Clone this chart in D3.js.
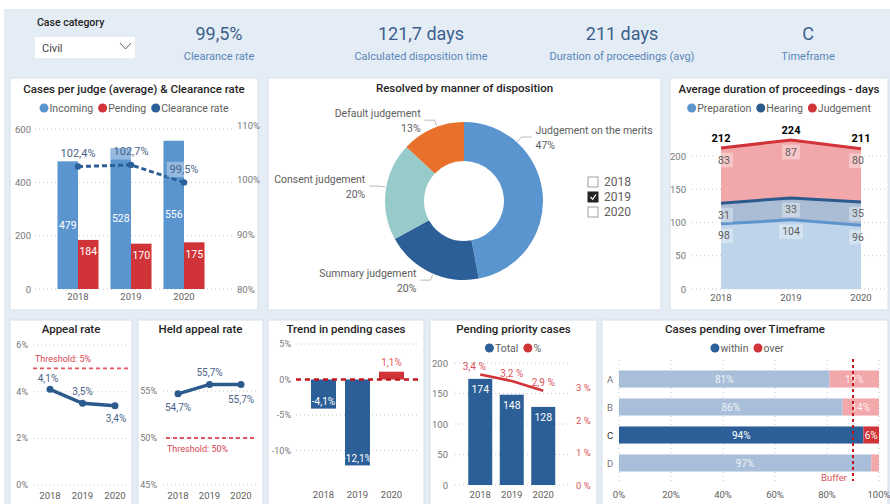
<!DOCTYPE html>
<html><head><meta charset="utf-8">
<script src="https://cdn.jsdelivr.net/npm/d3@7"></script>
<style>
html,body{margin:0;padding:0;background:#fff;}
svg{display:block;font-family:Roboto,'Noto Sans',sans-serif;}
</style></head><body>
<svg id="c" width="890" height="504"></svg>
<script>
// ---------- DATA ----------
const caseCategory = "Civil";
const kpiValues = ["99,5%", "121,7 days", "211 days", "C"];
const kpiLabels = ["Clearance rate", "Calculated disposition time", "Duration of proceedings (avg)", "Timeframe"];
const years = ["2018", "2019", "2020"];
const incoming = [479, 528, 556];
const pending = [184, 170, 175];
const clearanceRate = [102.4, 102.7, 99.5];
const dispositionNames = ["Judgement on the merits", "Summary judgement", "Consent judgement", "Default judgement"];
const dispositionShares = [47, 20, 20, 13];
const slicerYears = ["2018", "2019", "2020"];
const slicerSelected = "2019";
const preparation = [98, 104, 96];
const hearing = [31, 33, 35];
const judgement = [83, 87, 80];
const appealRate = [4.1, 3.5, 3.4];
const appealThreshold = 5;
const heldAppealRate = [54.7, 55.7, 55.7];
const heldThreshold = 50;
const pendingTrend = [-4.1, -12.1, 1.1];
const priorityTotal = [174, 148, 128];
const priorityPct = [3.4, 3.2, 2.9];
const timeframeCats = ["A", "B", "C", "D"];
const withinPct = [81, 86, 94, 97];
const overPct = [19, 14, 6, 3];
const timeframeSelected = "C";
const bufferPct = 90;

// ---------- HELPERS ----------
const svg = d3.select("#c");
const loc = d3.formatLocale({decimal: ",", thousands: ".", grouping: [3], currency: ["", ""], minus: "-"});
const f1 = loc.format(".1f");
const C = {
  blue: "#5b95cf", dark: "#2c5f97", red: "#d13438", orange: "#e8702a", teal: "#96cbca",
  grey: "#605e5c", axis: "#777", title: "#252423", grid: "#c8c8c8"
};

function txt(x, y, s, o = {}) {
  return svg.append("text").attr("x", x).attr("y", y)
    .attr("text-anchor", o.anchor || "middle")
    .attr("dominant-baseline", "central")
    .attr("font-size", o.size || 10)
    .attr("font-weight", o.weight || 400)
    .attr("fill", o.fill || C.grey)
    .attr("opacity", o.opacity == null ? 1 : o.opacity)
    .text(s);
}
function panel(x, y, w, h, title, ty) {
  svg.append("rect").attr("x", x).attr("y", y).attr("width", w).attr("height", h)
    .attr("fill", "#fff").attr("stroke", "#d6dfe9");
  txt(x + w / 2, ty, title, {size: 11.5, weight: 500, fill: C.title});
}
function legend(items, cx, cy) {
  const g = svg.append("g");
  let x = 0;
  items.forEach(it => {
    g.append("circle").attr("cx", x + 4.5).attr("cy", cy).attr("r", 4.5).attr("fill", it.color);
    const t = g.append("text").attr("x", x + 10).attr("y", cy).attr("dominant-baseline", "central")
      .attr("font-size", 10.5).attr("fill", C.grey).text(it.label);
    x += 10 + t.node().getComputedTextLength() + 5;
  });
  g.attr("transform", `translate(${cx - (x - 5) / 2},0)`);
}
function hGrid(scale, ticks, x0, x1) {
  ticks.forEach(t => svg.append("line").attr("x1", x0).attr("x2", x1)
    .attr("y1", scale(t)).attr("y2", scale(t))
    .attr("stroke", C.grid).attr("stroke-dasharray", "1,3"));
}
function labelBg(x, y, s, size) {
  const t = txt(x, y, s, {size: size});
  const w = t.node().getComputedTextLength();
  t.remove();
  svg.append("rect").attr("x", x - w / 2 - 3).attr("y", y - size * 0.7).attr("width", w + 6)
    .attr("height", size * 1.4).attr("fill", "#fff").attr("opacity", 0.35);
}

// ---------- BACKGROUND & HEADER ----------
svg.append("rect").attr("x", 4).attr("y", 9).attr("width", 886).attr("height", 495).attr("fill", "#e4ecf5");
txt(37, 22, "Case category", {anchor: "start", size: 10.5, weight: 500, fill: C.title});
svg.append("rect").attr("x", 35).attr("y", 37).attr("width", 100).attr("height", 21).attr("fill", "#fff");
txt(42, 48, caseCategory, {anchor: "start", size: 11, fill: "#444"});
svg.append("path").attr("d", "M120,43 L125.5,49 L131,43").attr("fill", "none").attr("stroke", "#666");
const kpiX = [219, 421, 622, 808];
kpiValues.forEach((v, i) => {
  txt(kpiX[i], 33, v, {size: 18, fill: "#3d5f8c"});
  txt(kpiX[i], 56, kpiLabels[i], {size: 11, fill: "#5a86b8"});
});

// ---------- PANEL 1: Cases per judge ----------
panel(10, 78, 248, 232, "Cases per judge (average) & Clearance rate", 89);
legend([{label: "Incoming", color: C.blue}, {label: "Pending", color: C.red}, {label: "Clearance rate", color: C.dark}], 134, 108);
const x1 = d3.scaleBand().domain(years).range([51.5, 210.5]).paddingInner(0.226).paddingOuter(0.113);
const x1i = d3.scaleBand().domain(["incoming", "pending"]).range([0, x1.bandwidth()]);
const y1 = d3.scaleLinear().domain([0, 600]).range([289, 129]);
const y1r = d3.scaleLinear().domain([80, 110]).range([289, 125]);
hGrid(y1, y1.ticks(3), 35, 235);
y1.ticks(3).forEach(t => txt(31, y1(t), t, {anchor: "end", size: 9.5, fill: C.axis}));
[80, 90, 100, 110].forEach(t => txt(237, y1r(t), t + "%", {anchor: "start", size: 9.5, fill: C.axis}));
years.forEach((yr, i) => {
  const bx = x1(yr);
  svg.append("rect").attr("x", bx + x1i("incoming")).attr("y", y1(incoming[i])).attr("width", x1i.bandwidth())
    .attr("height", y1(0) - y1(incoming[i])).attr("fill", C.blue);
  svg.append("rect").attr("x", bx + x1i("pending")).attr("y", y1(pending[i])).attr("width", x1i.bandwidth())
    .attr("height", y1(0) - y1(pending[i])).attr("fill", C.red);
  txt(bx + x1i("incoming") + x1i.bandwidth() / 2, (y1(incoming[i]) + y1(0)) / 2, incoming[i], {size: 10.5, fill: "#fff"});
  txt(bx + x1i("pending") + x1i.bandwidth() / 2, y1(pending[i]) + 12, pending[i], {size: 10.5, fill: "#fff"});
  txt(bx + x1.bandwidth() / 2, 296, yr, {size: 9.5});
});
const cx1 = i => x1(years[i]) + x1.bandwidth() / 2;
svg.append("path").datum(clearanceRate)
  .attr("d", d3.line().x((d, i) => cx1(i)).y(d => y1r(d)))
  .attr("fill", "none").attr("stroke", C.dark).attr("stroke-width", 3).attr("stroke-dasharray", "5,3");
clearanceRate.forEach((v, i) => {
  svg.append("circle").attr("cx", cx1(i)).attr("cy", y1r(v)).attr("r", 3.2).attr("fill", C.dark);
  labelBg(cx1(i), y1r(v) - 13, f1(v) + "%", 11);
  txt(cx1(i), y1r(v) - 13, f1(v) + "%", {size: 11, fill: "#4a6388"});
});

// ---------- PANEL 2: Donut ----------
panel(268, 78, 393, 232, "Resolved by manner of disposition", 88);
const dcx = 464, dcy = 201, rO = 79, rI = 40;
const donutColors = ["#5b95cf", "#2c5f97", "#96cbca", "#e8702a"];
const pieData = d3.pie().sort(null).value(d => d)(dispositionShares);
const arc = d3.arc().innerRadius(rI).outerRadius(rO);
svg.append("g").attr("transform", `translate(${dcx},${dcy})`)
  .selectAll("path").data(pieData).join("path")
  .attr("d", arc).attr("fill", (d, i) => donutColors[i]);
const labelAngleDeg = [42, 203, 280, 340];
pieData.forEach((d, i) => {
  const a = labelAngleDeg[i] * Math.PI / 180;
  const right = labelAngleDeg[i] < 180;
  const p0 = [dcx + (rO + 1) * Math.sin(a), dcy - (rO + 1) * Math.cos(a)];
  const p1 = [dcx + 86 * Math.sin(a), dcy - 86 * Math.cos(a)];
  const p2 = [p1[0] + (right ? 10 : -10), p1[1]];
  svg.append("polyline").attr("points", [p0, p1, p2].map(p => p.join(",")).join(" "))
    .attr("fill", "none").attr("stroke", "#b8b8b8");
  const tx = p2[0] + (right ? 4 : -4);
  const anc = right ? "start" : "end";
  txt(tx, p1[1] - 7, dispositionNames[i], {anchor: anc, size: 10.5});
  txt(tx, p1[1] + 8, dispositionShares[i] + "%", {anchor: anc, size: 10.5});
});
slicerYears.forEach((yr, i) => {
  const y = 182 + i * 15;
  const sel = yr === slicerSelected;
  svg.append("rect").attr("x", 588).attr("y", y - 5).attr("width", 10).attr("height", 10)
    .attr("fill", sel ? "#252423" : "#fff").attr("stroke", sel ? "#252423" : "#a0a0a0");
  if (sel) svg.append("path").attr("d", `M590.5,${y} L592.6,${y + 2.3} L596,${y - 2.5}`)
    .attr("fill", "none").attr("stroke", "#fff").attr("stroke-width", 1.2);
  txt(604, y, yr, {anchor: "start", size: 12});
});

// ---------- PANEL 3: Average duration ----------
panel(670, 78, 218, 232, "Average duration of proceedings - days", 89);
legend([{label: "Preparation", color: "#5e95cd"}, {label: "Hearing", color: "#2c5a8c"}, {label: "Judgement", color: C.red}], 779, 108);
const x3 = d3.scalePoint().domain(years).range([721, 861]);
const y3 = d3.scaleLinear().domain([0, 200]).range([289, 156]);
hGrid(y3, [0, 50, 100, 150, 200], 692, 886);
[0, 50, 100, 150, 200].forEach(t => txt(686, y3(t), t, {anchor: "end", size: 9.5, fill: C.axis}));
years.forEach(yr => txt(x3(yr), 297, yr, {size: 9.5}));
const stackRows = years.map((yr, i) => ({year: yr, preparation: preparation[i], hearing: hearing[i], judgement: judgement[i]}));
const keys3 = ["preparation", "hearing", "judgement"];
const series3 = d3.stack().keys(keys3)(stackRows);
const fills3 = ["#bed4ea", "#aabdd5", "#f2a8ab"];
const lines3 = ["#5e95cd", "#2c5a8c", C.red];
const area3 = d3.area().x(d => x3(d.data.year)).y0(d => y3(d[0])).y1(d => y3(d[1]));
const line3 = d3.line().x(d => x3(d.data.year)).y(d => y3(d[1]));
series3.forEach((s, k) => svg.append("path").datum(s).attr("d", area3).attr("fill", fills3[k]));
series3.forEach((s, k) => svg.append("path").datum(s).attr("d", line3).attr("fill", "none")
  .attr("stroke", lines3[k]).attr("stroke-width", 3));
series3.forEach((s, k) => s.forEach((d, i) => {
  const lx = x3(d.data.year) + (i === 0 ? 3 : i === 2 ? -3 : 0);
  const ly = y3(d[1]) + 12;
  labelBg(lx, ly, d.data[keys3[k]], 10.5);
  txt(lx, ly, d.data[keys3[k]], {size: 10.5});
}));
series3[2].forEach(d => txt(x3(d.data.year), y3(d[1]) - 10, d[1], {size: 11, weight: 700, fill: "#000"}));

// ---------- PANEL 4: Appeal rate ----------
panel(10, 320, 122, 190, "Appeal rate", 329);
const x4 = d3.scalePoint().domain(years).range([50, 115]);
const y4 = d3.scaleLinear().domain([0, 6]).range([485, 345]);
hGrid(y4, [0, 2, 4, 6], 33, 128);
[0, 2, 4, 6].forEach(t => txt(28, y4(t), t + "%", {anchor: "end", size: 9, fill: C.axis}));
years.forEach(yr => txt(x4(yr), 495, yr, {size: 9.5}));
svg.append("line").attr("x1", 33).attr("x2", 128).attr("y1", y4(appealThreshold)).attr("y2", y4(appealThreshold))
  .attr("stroke", "#e0555f").attr("stroke-width", 1.8).attr("stroke-dasharray", "4,3");
txt(35, y4(appealThreshold) - 9, "Threshold: " + appealThreshold + "%", {anchor: "start", size: 9, fill: "#d64550"});
svg.append("path").datum(appealRate).attr("d", d3.line().x((d, i) => x4(years[i])).y(d => y4(d)))
  .attr("fill", "none").attr("stroke", "#2c5a8c").attr("stroke-width", 3.5);
const off4 = [-11, -12, 13];
appealRate.forEach((v, i) => {
  svg.append("circle").attr("cx", x4(years[i])).attr("cy", y4(v)).attr("r", 3.5).attr("fill", "#2c5a8c");
  txt(x4(years[i]) + (i === 0 ? -2 : i === 2 ? 1 : 0), y4(v) + off4[i], f1(v) + "%", {size: 10, fill: "#4a6388"});
});

// ---------- PANEL 5: Held appeal rate ----------
panel(138, 320, 125, 190, "Held appeal rate", 329);
const x5 = d3.scalePoint().domain(years).range([178, 241]);
const y5 = d3.scaleLinear().domain([45, 60]).range([485, 344]);
hGrid(y5, [45, 50, 55], 163, 258);
[45, 50, 55].forEach(t => txt(157, y5(t), t + "%", {anchor: "end", size: 9, fill: C.axis}));
years.forEach(yr => txt(x5(yr), 495, yr, {size: 9.5}));
svg.append("line").attr("x1", 166).attr("x2", 254).attr("y1", y5(heldThreshold)).attr("y2", y5(heldThreshold))
  .attr("stroke", "#e0555f").attr("stroke-width", 1.8).attr("stroke-dasharray", "4,3");
txt(167, y5(heldThreshold) + 11, "Threshold: " + heldThreshold + "%", {anchor: "start", size: 9, fill: "#d64550"});
svg.append("path").datum(heldAppealRate).attr("d", d3.line().x((d, i) => x5(years[i])).y(d => y5(d)))
  .attr("fill", "none").attr("stroke", "#2c5a8c").attr("stroke-width", 3.5);
const off5 = [14, -12, 15];
heldAppealRate.forEach((v, i) => {
  svg.append("circle").attr("cx", x5(years[i])).attr("cy", y5(v)).attr("r", 3.5).attr("fill", "#2c5a8c");
  txt(x5(years[i]), y5(v) + off5[i], f1(v) + "%", {size: 10, fill: "#4a6388"});
});

// ---------- PANEL 6: Trend in pending cases ----------
panel(268, 320, 156, 190, "Trend in pending cases", 329);
const x6 = d3.scaleBand().domain(years).range([306.5, 408.5]).paddingInner(0.265).paddingOuter(0.1325);
const y6 = d3.scaleLinear().domain([-10, 5]).range([450.5, 344]);
hGrid(y6, [-10, -5, 0, 5], 296, 420);
[-10, -5, 0, 5].forEach(t => txt(291, y6(t), loc.format("d")(t) + "%", {anchor: "end", size: 9, fill: C.axis}));
years.forEach((yr, i) => {
  const v = pendingTrend[i];
  const neg = v < 0;
  svg.append("rect").attr("x", x6(yr)).attr("width", x6.bandwidth())
    .attr("y", y6(Math.max(0, v))).attr("height", Math.abs(y6(v) - y6(0)))
    .attr("fill", neg ? "#2c5f97" : C.red);
  txt(x6(yr) + x6.bandwidth() / 2, 494, yr, {size: 9.5});
  if (neg) txt(x6(yr) + x6.bandwidth() / 2, y6(v) - 7, f1(v) + "%", {size: 10, fill: "#fff"});
  else txt(x6(yr) + x6.bandwidth() / 2, y6(v) - 9, f1(v) + "%", {size: 10, fill: "#e06060"});
});
svg.append("line").attr("x1", 296).attr("x2", 421).attr("y1", y6(0)).attr("y2", y6(0))
  .attr("stroke", "#c4161c").attr("stroke-width", 2.5).attr("stroke-dasharray", "5,4");

// ---------- PANEL 7: Pending priority cases ----------
panel(430, 320, 167, 190, "Pending priority cases", 329);
legend([{label: "Total", color: "#2c5f97"}, {label: "%", color: C.red}], 513, 348);
const x7 = d3.scaleBand().domain(years).range([464.5, 559]).paddingInner(0.238).paddingOuter(0.119);
const y7 = d3.scaleLinear().domain([0, 200]).range([485, 363]);
const y7r = d3.scaleLinear().domain([0, 3]).range([485, 387.5]);
hGrid(y7, [0, 50, 100, 150, 200], 455, 568);
[0, 50, 100, 150, 200].forEach(t => txt(448, y7(t), t, {anchor: "end", size: 9.5, fill: C.axis}));
[0, 1, 2, 3].forEach(t => txt(576, y7r(t), t + " %", {anchor: "start", size: 9.5, fill: "#d9545c"}));
years.forEach((yr, i) => {
  svg.append("rect").attr("x", x7(yr)).attr("width", x7.bandwidth()).attr("y", y7(priorityTotal[i]))
    .attr("height", y7(0) - y7(priorityTotal[i])).attr("fill", "#2c5f97");
  txt(x7(yr) + x7.bandwidth() / 2, y7(priorityTotal[i]) + 11, priorityTotal[i], {size: 10.5, fill: "#fff"});
  txt(x7(yr) + x7.bandwidth() / 2, 494, yr, {size: 9.5});
});
const cx7 = i => x7(years[i]) + x7.bandwidth() / 2;
svg.append("path").datum(priorityPct).attr("d", d3.line().x((d, i) => cx7(i)).y(d => y7r(d)))
  .attr("fill", "none").attr("stroke", C.red).attr("stroke-width", 2.5);
priorityPct.forEach((v, i) => txt(cx7(i) + (i === 0 ? -6 : 0), y7r(v) - 8, f1(v) + " %", {size: 10, fill: "#d9545c"}));

// ---------- PANEL 8: Cases pending over Timeframe ----------
panel(602, 320, 286, 190, "Cases pending over Timeframe", 329);
legend([{label: "within", color: "#2c5f97"}, {label: "over", color: C.red}], 747, 348);
const x8 = d3.scaleLinear().domain([0, 100]).range([619, 879]);
const y8 = d3.scaleBand().domain(timeframeCats).range([365, 477]).paddingInner(0.39).paddingOuter(0.195);
d3.range(0, 101, 20).forEach(t => {
  svg.append("line").attr("x1", x8(t)).attr("x2", x8(t)).attr("y1", 360).attr("y2", 481)
    .attr("stroke", C.grid).attr("stroke-dasharray", "1,3");
  txt(x8(t), 494, t + "%", {size: 9.5});
});
timeframeCats.forEach((c, i) => {
  const sel = c === timeframeSelected;
  const y = y8(c), h = y8.bandwidth();
  svg.append("rect").attr("x", x8(0)).attr("y", y).attr("width", x8(withinPct[i]) - x8(0)).attr("height", h)
    .attr("fill", sel ? "#2c5f97" : "#a9bfd9");
  svg.append("rect").attr("x", x8(withinPct[i])).attr("y", y).attr("width", x8(withinPct[i] + overPct[i]) - x8(withinPct[i]))
    .attr("height", h).attr("fill", sel ? C.red : "#f2a7aa");
  txt(610, y + h / 2, c, {size: 9.5, fill: sel ? "#333" : C.axis});
  txt((x8(0) + x8(withinPct[i])) / 2, y + h / 2, withinPct[i] + "%", {size: 10, fill: "#fff", opacity: sel ? 1 : 0.8});
  if (overPct[i] >= 5)
    txt((x8(withinPct[i]) + x8(withinPct[i] + overPct[i])) / 2, y + h / 2, overPct[i] + "%", {size: 10, fill: "#fff", opacity: sel ? 1 : 0.8});
});
svg.append("line").attr("x1", x8(bufferPct)).attr("x2", x8(bufferPct)).attr("y1", 359).attr("y2", 481)
  .attr("stroke", "#c4161c").attr("stroke-width", 2).attr("stroke-dasharray", "3,3");
txt(x8(bufferPct) - 6, 477, "Buffer", {anchor: "end", size: 9.5, fill: "#d9545c"});
</script>
</body></html>
